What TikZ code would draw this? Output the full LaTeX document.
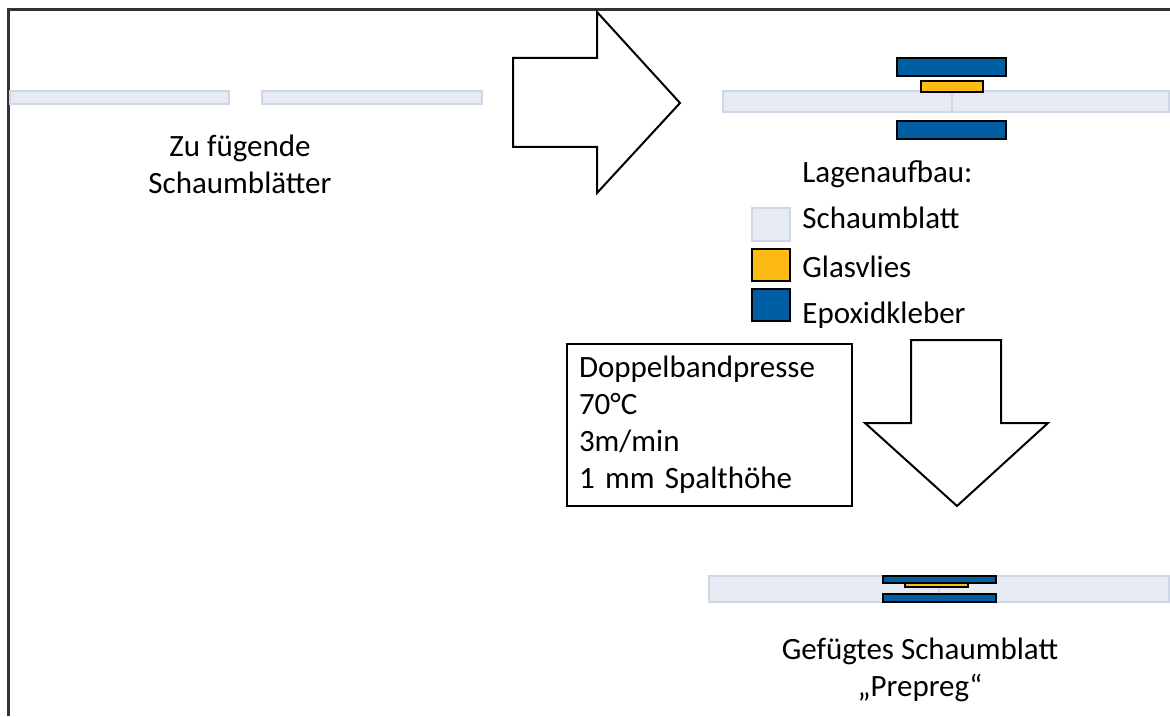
\documentclass[tikz,border=0pt]{standalone}
\usepackage{fontspec}
\setmainfont{Carlito}
\usepackage{tikz}
\usetikzlibrary{positioning}

\definecolor{foamfill}{RGB}{230,234,242}
\definecolor{foamline}{RGB}{207,214,229}
\definecolor{epoxyblue}{RGB}{0,94,165}
\definecolor{fleeceyellow}{RGB}{253,187,19}

\begin{document}
\begin{tikzpicture}[x=0.5pt, y=-0.5pt,
    foam/.style={fill=foamfill, draw=foamline, line width=1pt},
    fleece/.style={fill=fleeceyellow, draw=black, line width=1pt},
    epoxy/.style={fill=epoxyblue, draw=black, line width=1pt},
    blockarrow/.style={draw=black, fill=white, line width=1pt, line join=miter},
    txt/.style={font=\fontsize{15.5}{18.5}\selectfont, inner sep=0pt}]
    \useasboundingbox (0,0) rectangle (1170,716);
    \draw[black!80, line width=1.2pt] (8.5,716) -- (8.5,9.5) -- (1170,9.5);

    % foam sheets to be joined
    \draw[foam] (10,91) rectangle (229,104);
    \draw[foam] (262,91) rectangle (482,104);
    \node[txt, align=center] (joinlabel) at (240,164) {Zu fügende\\Schaumblätter};

    \draw[blockarrow] (513,58) -- (597,58) -- (597,12) -- (680,103)
        -- (597,193) -- (597,147) -- (513,147) -- cycle;

    % layer stack
    \draw[foam] (723,91) rectangle (952,112);
    \draw[foam] (952,91) rectangle (1169,112);
    \draw[epoxy] (897,58) rectangle (1006,76);
    \draw[fleece] (921,81) rectangle (983,92);
    \draw[epoxy] (897,121) rectangle (1006,139);

    % legend
    \node[txt, anchor=base west] (layerhead) at (802,183) {Lagenaufbau:};
    \draw[foam] (752,208) rectangle (790,241);
    \draw[fleece] (752,249) rectangle (790,281);
    \draw[epoxy] (752,289) rectangle (790,321);
    \node[txt, anchor=base west] (keyfoam) at (802,229) {Schaumblatt};
    \node[txt, anchor=base west] (keyfleece) at (802,278) {Glasvlies};
    \node[txt, anchor=base west] (keyepoxy) at (802,323) {Epoxidkleber};

    % pressing
    \node[txt, draw, line width=0.75pt, align=left, text width=130.5pt,
        minimum height=81pt, inner xsep=6pt] (press) at (709.5,425)
        {Doppelbandpresse\\70°C\\3m/min\\1 mm Spalthöhe};

    \draw[blockarrow] (911,340) -- (1001,340) -- (1001,423) -- (1048,423)
        -- (957,506) -- (865,423) -- (911,423) -- cycle;

    % joined sheet
    \draw[foam] (709,576) rectangle (939,602);
    \draw[foam] (939,576) rectangle (1169,602);
    \draw[epoxy] (883,576) rectangle (996,583);
    \draw[fleece] (905,583) rectangle (968,587);
    \draw[epoxy] (883,594) rectangle (996,602);
    \node[txt, align=center] (prepreg) at (920,670)
        {Gefügtes Schaumblatt\\„Prepreg“};
\end{tikzpicture}
\end{document}
